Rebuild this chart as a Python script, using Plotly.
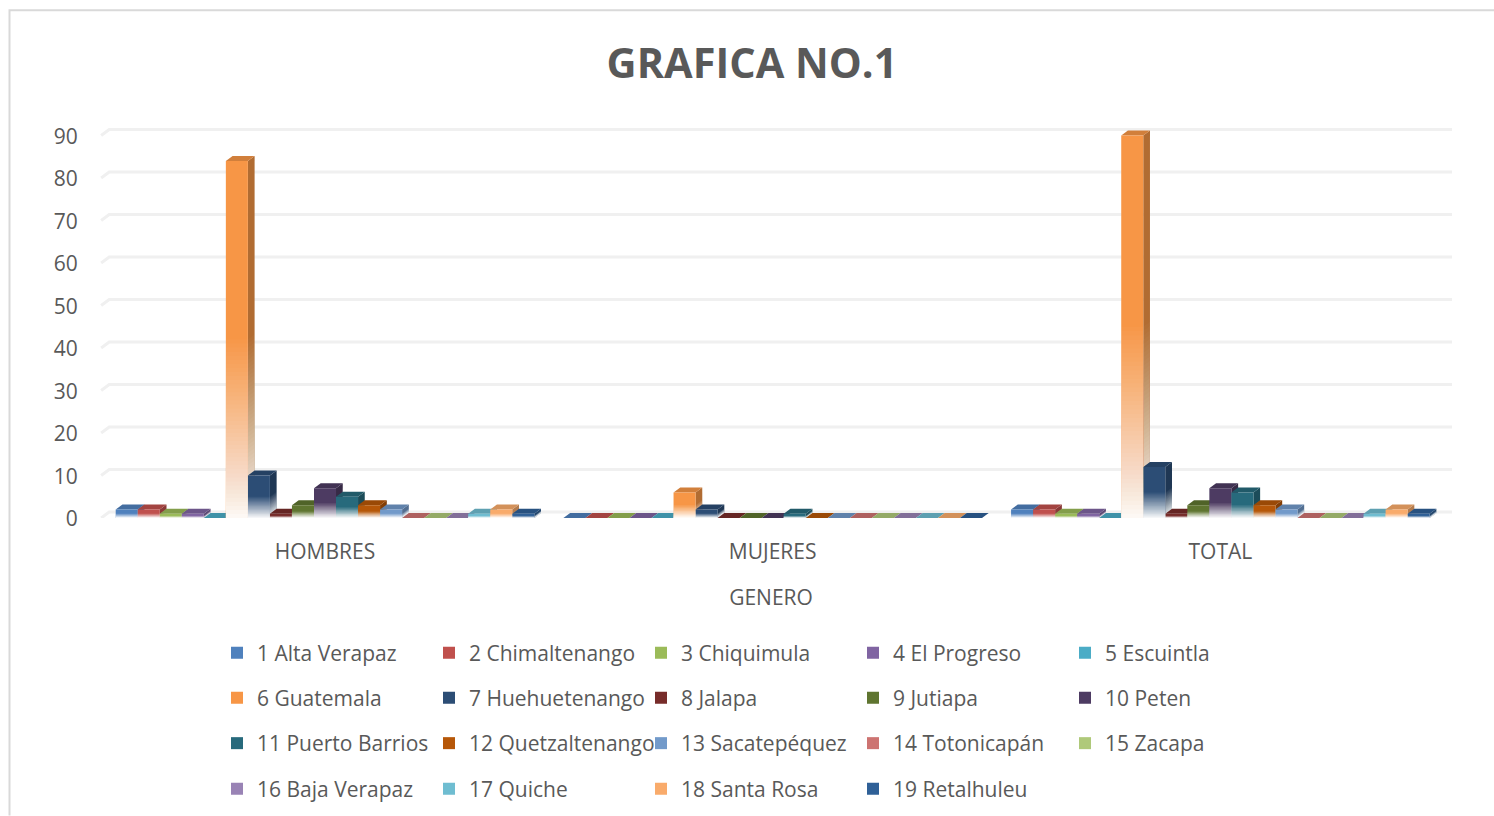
import plotly.graph_objects as go

categories = ["HOMBRES", "MUJERES", "TOTAL"]
names = ["1 Alta Verapaz", "2 Chimaltenango", "3 Chiquimula", "4 El Progreso", "5 Escuintla",
         "6 Guatemala", "7 Huehuetenango", "8 Jalapa", "9 Jutiapa", "10 Peten",
         "11 Puerto Barrios", "12 Quetzaltenango", "13 Sacatepéquez", "14 Totonicapán", "15 Zacapa",
         "16 Baja Verapaz", "17 Quiche", "18 Santa Rosa", "19 Retalhuleu"]
hombres = [2, 2, 1, 1, 0, 84, 10, 1, 3, 7, 5, 3, 2, 0, 0, 0, 1, 2, 1]
mujeres = [0, 0, 0, 0, 0, 6, 2, 0, 0, 0, 1, 0, 0, 0, 0, 0, 0, 0, 0]
total = [2, 2, 1, 1, 0, 90, 12, 1, 3, 7, 6, 3, 2, 0, 0, 0, 1, 2, 1]
colors = ["#4F81BD", "#C0504D", "#9BBB59", "#8064A2", "#4BACC6", "#F79646", "#2C4D75", "#772C2A",
          "#5F7530", "#4D3B62", "#276A7C", "#B65708", "#729ACA", "#CD7371", "#AFC97A", "#9983B5",
          "#6FBDD1", "#F9AB6B", "#2F6097"]
y_ticks = [0, 10, 20, 30, 40, 50, 60, 70, 80, 90]

TEXT = "#595959"
FONT = "Open Sans"
W, H = 1494, 816
L, R, T, B = 90, 42, 126.5, 298
GAP = 0.065
DX, DY = 0.015, 1.18
X_RANGE = [-0.5249, 2.5174]
series = [hombres, mujeres, total]


def shade(c, f):
    r, g, b = int(c[1:3], 16), int(c[3:5], 16), int(c[5:7], 16)
    return f"rgb({int(r*f)},{int(g*f)},{int(b*f)})"


def poly(pts):
    return "M" + " L".join(f"{x:.5f},{y:.4f}" for x, y in pts) + " Z"


fig = go.Figure()
for i, n in enumerate(names):
    fig.add_bar(x=categories, y=[s[i] for s in series], name=n, marker_color=colors[i],
                marker_line_width=0, legend=["legend", "legend2", "legend3", "legend4"][i // 5])

shapes = []
# gridlines on the back wall, with the short slanted piece on the side wall
for v in y_ticks:
    shapes.append(dict(type="path", layer="below", xref="x", yref="y", line=dict(color="#F0F0F0", width=3),
                       path=f"M-0.5,{v} L{-0.5+DX*1.2},{v+DY*1.2} L{X_RANGE[1]},{v+DY*1.2}"))

w = (1 - GAP) / len(names)
above = []
for c, vals in enumerate(series):
    left = c - (1 - GAP) / 2
    for i, v in enumerate(vals):
        x0, x1 = left + i * w, left + (i + 1) * w
        shapes.append(dict(type="path", layer="below", xref="x", yref="y", line_width=0,
                           fillcolor=shade(colors[i], 0.72),
                           path=poly([(x1, 0), (x1 + DX, DY), (x1 + DX, v + DY), (x1, v)])))
        shapes.append(dict(type="path", layer="below", xref="x", yref="y", line_width=0,
                           fillcolor=shade(colors[i], 0.85),
                           path=poly([(x0, v), (x1, v), (x1 + DX, v + DY), (x0 + DX, v + DY)])))
        if v > 0:
            # white fade over the lower half of the bar, built from nested translucent layers
            n = max(5, min(44, int(v * 1.6)))
            prev = 0.0
            for k in range(n):
                frac = (n - k) / n          # layer top as a fraction of the faded half
                target = 0.95 * (k + 1) / n  # opacity wanted just under that top
                alpha = 1 - (1 - target) / (1 - prev)
                prev = target
                top = v * 0.5 * frac
                fill = f"rgba(255,255,255,{alpha:.4f})"
                above.append(dict(type="rect", layer="above", xref="x", yref="y", line_width=0,
                                  fillcolor=fill, x0=x0, x1=x1, y0=0, y1=top))
                shapes.append(dict(type="path", layer="below", xref="x", yref="y", line_width=0, fillcolor=fill,
                                   path=poly([(x1, 0), (x1 + DX, DY), (x1 + DX, top + DY), (x1, top)])))
shapes += above
# chart frame
shapes.append(dict(type="path", xref="paper", yref="paper", line=dict(color="#D9D9D9", width=2),
                   path=f"M{(9.5-L)/(W-L-R)},{-B/(H-T-B)} L{(9.5-L)/(W-L-R)},{(H-B-9.5)/(H-T-B)} "
                        f"L{(W-L)/(W-L-R)},{(H-B-9.5)/(H-T-B)}"))

legend_rows = [653, 698, 743.5, 789]
legends = {}
for r, yp in enumerate(legend_rows):
    legends["legend" if r == 0 else f"legend{r+1}"] = dict(
        orientation="h", x=217 / W, xref="container", y=1 - yp / H, yref="container",
        xanchor="left", yanchor="middle", entrywidth=167, entrywidthmode="pixels",
        bgcolor="rgba(0,0,0,0)", font=dict(family=FONT, size=21, color=TEXT), traceorder="normal")

fig.update_layout(
    width=W, height=H, margin=dict(l=L, r=R, t=T, b=B, autoexpand=False),
    paper_bgcolor="white", plot_bgcolor="rgba(0,0,0,0)",
    barmode="group", bargap=GAP, bargroupgap=0,
    title=dict(text="<b>GRAFICA NO.1</b>", x=752 / W, xanchor="center", xref="container",
               y=1 - 63 / H, yanchor="middle", yref="container",
               font=dict(family=FONT, size=41.5, color=TEXT)),
    xaxis=dict(type="category", categoryorder="array", categoryarray=categories,
               range=X_RANGE, showgrid=False, zeroline=False, showline=False,
               ticks="outside", ticklen=15, tickcolor="rgba(0,0,0,0)",
               tickfont=dict(family=FONT, size=21, color=TEXT),
               title=dict(text="GENERO", standoff=26, font=dict(family=FONT, size=21, color=TEXT))),
    yaxis=dict(range=[0, 92], tickvals=y_ticks, showgrid=False, zeroline=False, showline=False,
               ticks="outside", ticklen=7, tickcolor="rgba(0,0,0,0)", ticklabelshift=1,
               tickfont=dict(family=FONT, size=21, color=TEXT)),
    shapes=shapes, showlegend=True, **legends)

fig.write_html("out.html", config={"displayModeBar": False},
               post_script="document.body.style.margin='0';document.body.style.overflow='hidden';")
